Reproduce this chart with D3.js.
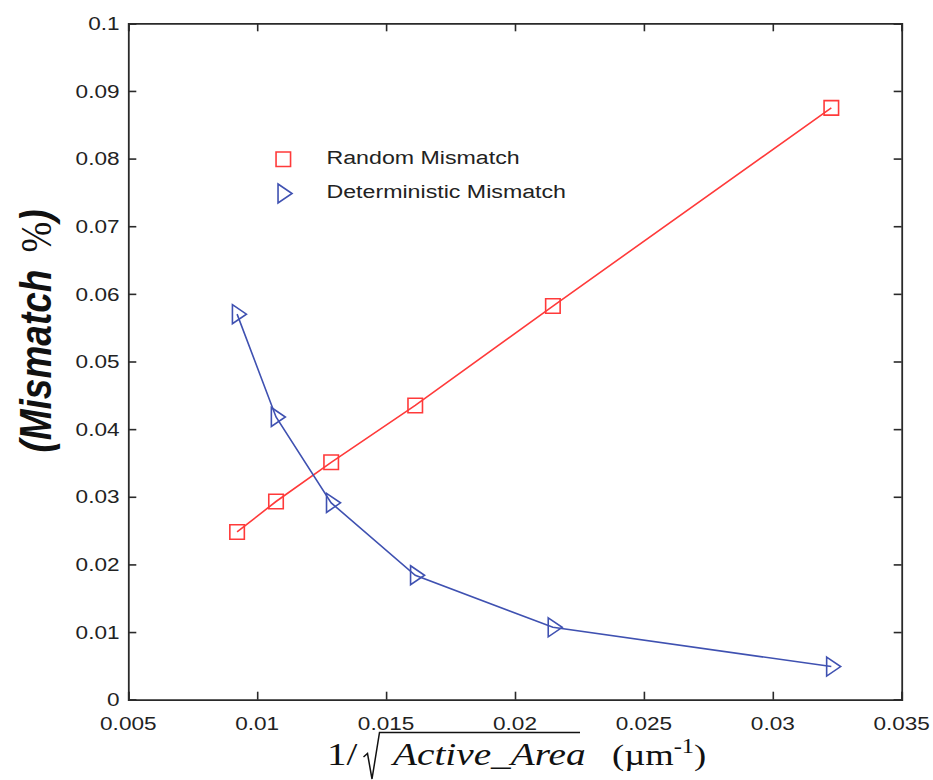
<!DOCTYPE html>
<html>
<head>
<meta charset="utf-8">
<script src="https://cdn.jsdelivr.net/npm/d3@7"></script>
<style>
  html, body { margin: 0; padding: 0; background: #fff; }
  svg { display: block; }
</style>
</head>
<body>
<svg id="chart" width="933" height="780"></svg>
<script>
// Mismatch versus 1/sqrt(active area)
const xValues = [0.00922, 0.01073, 0.01287, 0.01613, 0.02147, 0.03227];
const randomMismatch = [0.0248, 0.0293, 0.0351, 0.0435, 0.0582, 0.0875];
const deterministicMismatch = [0.0570, 0.0418, 0.0291, 0.0184, 0.0107, 0.0049];
const xTickValues = [0.005, 0.01, 0.015, 0.02, 0.025, 0.03, 0.035];
const xTickLabels = ["0.005", "0.01", "0.015", "0.02", "0.025", "0.03", "0.035"];
const yTickValues = [0, 0.01, 0.02, 0.03, 0.04, 0.05, 0.06, 0.07, 0.08, 0.09, 0.1];
const yTickLabels = ["0", "0.01", "0.02", "0.03", "0.04", "0.05", "0.06", "0.07", "0.08", "0.09", "0.1"];
const seriesNames = ["Random Mismatch", "Deterministic Mismatch"];

const RED = "#ff3a3a";
const BLUE = "#3f51b1";
const SX = 1.22; // horizontal widening of lettering

const svg = d3.select("#chart");
const plotLeft = 128.3, plotRight = 901.7, plotTop = 23.3, plotBottom = 699.7;

const x = d3.scaleLinear().domain([0.005, 0.035]).range([plotLeft, plotRight]);
const y = d3.scaleLinear().domain([0, 0.1]).range([plotBottom, plotTop]);

// helper: text placed at (px,py), widened horizontally
function label(g, px, py, str, opts) {
  const t = g.append("text")
    .attr("transform", `translate(${px},${py}) scale(${SX},1)` + (opts.rotate ? ` rotate(${opts.rotate})` : ""))
    .attr("font-family", opts.family || "Liberation Sans, Arial, sans-serif")
    .attr("font-size", opts.size)
    .attr("fill", opts.fill || "#222")
    .attr("text-anchor", opts.anchor || "start");
  if (opts.weight) t.attr("font-weight", opts.weight);
  if (opts.style) t.attr("font-style", opts.style);
  if (opts.dy) t.attr("dy", opts.dy);
  if (str !== null) t.text(str);
  return t;
}

// axes (ticks pointing inward on all four sides)
const axisColor = "#2a2a2a";
const tickLen = 8;
const gAxes = svg.append("g");

const bottomAxis = d3.axisBottom(x).tickValues(xTickValues).tickSize(-tickLen).tickFormat("");
const topAxis = d3.axisTop(x).tickValues(xTickValues).tickSize(-tickLen).tickFormat("");
const leftAxis = d3.axisLeft(y).tickValues(yTickValues).tickSize(-tickLen).tickFormat("");
const rightAxis = d3.axisRight(y).tickValues(yTickValues).tickSize(-tickLen).tickFormat("");

[[bottomAxis, `translate(0,${plotBottom})`], [topAxis, `translate(0,${plotTop})`],
 [leftAxis, `translate(${plotLeft},0)`], [rightAxis, `translate(${plotRight},0)`]].forEach(([ax, tr]) => {
  const g = gAxes.append("g").attr("transform", tr).call(ax);
  g.select(".domain").attr("stroke", axisColor).attr("stroke-width", 1.8);
  g.selectAll(".tick line").attr("stroke", axisColor).attr("stroke-width", 1.6);
});

// tick labels
const gLabels = svg.append("g");
xTickValues.forEach((v, i) => {
  label(gLabels, x(v), 730, xTickLabels[i], { size: 18.5, anchor: "middle" });
});
yTickValues.forEach((v, i) => {
  label(gLabels, 119.5, y(v), yTickLabels[i], { size: 18.5, anchor: "end", dy: "0.36em" });
});

// series lines
const line = d3.line().x(d => x(d[0])).y(d => y(d[1]));
const redPts = xValues.map((v, i) => [v, randomMismatch[i]]);
const bluePts = xValues.map((v, i) => [v, deterministicMismatch[i]]);

svg.append("path").datum(redPts).attr("d", line)
  .attr("fill", "none").attr("stroke", RED).attr("stroke-width", 1.6);
svg.append("path").datum(bluePts).attr("d", line)
  .attr("fill", "none").attr("stroke", BLUE).attr("stroke-width", 1.6);

// markers
const sq = 14.5;
function squarePath(cx, cy) {
  return `M${cx - sq / 2},${cy - sq / 2}h${sq}v${sq}h${-sq}Z`;
}
const triD = 14, triH = 9.5;
function trianglePath(cx, cy) {
  const back = cx - triD / 3, tip = cx + 2 * triD / 3;
  return `M${back},${cy - triH}L${tip},${cy}L${back},${cy + triH}Z`;
}

svg.append("g").selectAll("path").data(redPts).join("path")
  .attr("d", d => squarePath(x(d[0]), y(d[1])))
  .attr("fill", "none").attr("stroke", RED).attr("stroke-width", 1.6);
svg.append("g").selectAll("path").data(bluePts).join("path")
  .attr("d", d => trianglePath(x(d[0]), y(d[1])))
  .attr("fill", "none").attr("stroke", BLUE).attr("stroke-width", 1.6);

// legend
const gLeg = svg.append("g");
gLeg.append("path").attr("d", squarePath(283.3, 159.3))
  .attr("fill", "none").attr("stroke", RED).attr("stroke-width", 1.6);
gLeg.append("path").attr("d", trianglePath(282.7, 193.5))
  .attr("fill", "none").attr("stroke", BLUE).attr("stroke-width", 1.6);
label(gLeg, 326.5, 164, seriesNames[0], { size: 19 });
label(gLeg, 326.5, 197.5, seriesNames[1], { size: 19 });

// y-axis title
const yTitle = label(svg, 51, 331, null, { rotate: -90, size: 37, anchor: "middle", fill: "#111" });
yTitle.append("tspan").attr("font-weight", "bold").attr("font-style", "italic").text("(Mismatch");
yTitle.append("tspan").attr("dx", 17).attr("font-family", "Liberation Serif, Times New Roman, serif").text("%");
yTitle.append("tspan").attr("font-weight", "bold").attr("font-style", "italic").text(")");

// x-axis title: 1/sqrt(Active_Area) (µm^-1)
const serif = "Liberation Serif, Times New Roman, serif";
const gXT = svg.append("g");
label(gXT, 327, 765, "1/", { size: 32, family: serif, fill: "#111" });
gXT.append("path")
  .attr("d", "M363.5,757 L367.5,753.5 L372,779 L379.5,732.5 L580,732.5")
  .attr("fill", "none").attr("stroke", "#111").attr("stroke-width", 1.5);
label(gXT, 393, 765, "Active_Area", { size: 32.2, family: serif, style: "italic", fill: "#111" });
const unit = label(gXT, 612, 765, null, { size: 30, family: serif, fill: "#111" });
unit.append("tspan").text("(\u00b5m");
unit.append("tspan").attr("dy", -12).attr("font-size", 20).text("-1");
unit.append("tspan").attr("dy", 12).text(")");
</script>
</body>
</html>
